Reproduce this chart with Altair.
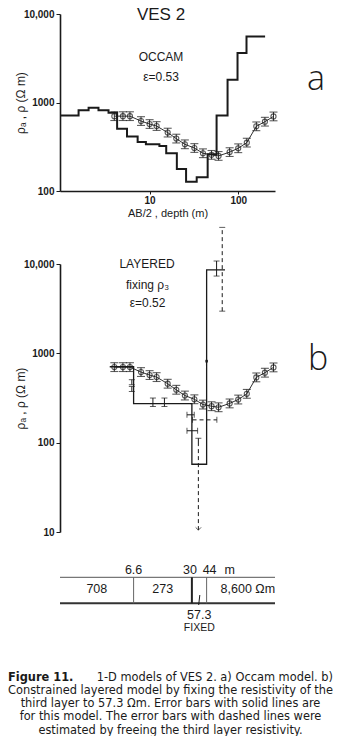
import altair as alt
import pandas as pd

# ---------------- data ----------------
# apparent resistivity sounding curve (same data in panel a and b)
ab2 = [4, 5, 6, 8, 10, 12, 16, 20, 25, 32, 40, 50, 60, 80, 100, 125, 160, 200, 250]
rho_app = [701, 701, 701, 617, 571, 542, 457, 391, 337, 306, 267, 256, 249, 275, 304, 352, 538, 607, 696]
rel_err = [1.12] * len(ab2)

# Occam smooth model (layer top depth, resistivity)
occam_depth = [1.0, 1.58, 2.05, 2.65, 3.44, 4.30, 5.56, 7.33, 9.08, 12.9, 15.4, 20.3,
               25.8, 34.0, 45.2, 57.0, 75.8, 98.2, 124, 201]
occam_rho = [715, 818, 871, 818, 766, 506, 412, 358, 337, 323, 267, 177,
             127, 143, 261, 715, 1811, 3614, 5560, 5560]

# constrained layered model
layer_bounds = [6.6, 30, 44]
layer_rho = [708, 273, 57.3, 8600]
layer_line_start = 3.55
layer_line_end = 71
layer_bound_labels = ["6.6", "30", "44"]
layer_rho_labels = ["708", "273", "8,600 Ωm"]

# solid error bars (this model)
vbar_x = [6.3, 6.3, 10.9, 14.7, 35.5, 57]
vbar_lo = [445, 374, 254, 254, 94, 7330]
vbar_hi = [507, 426, 316, 316, 112, 10800]
hbar_rho = [205, 136]
hbar_lo = [26.4, 26.4]
hbar_hi = [31.9, 34.8]
# dashed error bars (third layer resistivity free)
dv_x = [66]
dv_lo = [2966]
dv_hi = [25700]
dh_rho = [180]
dh_lo = [30.5]
dh_hi = [57.4]
dfree_x = [35.5]
dfree_lo = [10.5]
dfree_hi = [94]

caption_rest1 = "1-D models of VES 2. a) Occam model. b)"
caption_lines = [
    "Constrained layered model by fixing the resistivity of the",
    "third layer to 57.3 Ωm. Error bars with solid lines are",
    "for this model. The error bars with dashed lines were",
    "estimated by freeing the third layer resistivity.",
]

# ---------------- styling ----------------
FONT = "Liberation Sans"
CAP_FONT = "DejaVu Sans"
INK = "#1a1a1a"
W = 215
HA = 177
HB = 268
XDOM = [0.975, 260]
XS = alt.Scale(type="log", domain=XDOM, nice=False)


def xenc():
    return alt.X(
        "x:Q",
        scale=XS,
        axis=alt.Axis(values=[10, 100], format="d", title="AB/2 , depth (m)",
                      tickSize=3, labelPadding=1, titlePadding=2, grid=False,
                      labelFont=FONT, labelFontWeight="bold", labelFontSize=10,
                      titleFont=FONT, titleFontSize=11, titleFontWeight="normal",
                      domainColor=INK, domainWidth=1.6, tickColor=INK,
                      labelColor=INK, titleColor=INK),
    )


def yenc(domain, height, values):
    return alt.Y(
        "y:Q",
        scale=alt.Scale(type="log", domain=domain, nice=False),
        axis=alt.Axis(values=values,
                      labelExpr="datum.value == 10000 ? '10,000' : format(datum.value, 'd')",
                      title="ρₐ , ρ (Ω m)", titleX=-40, titleY=height / 2,
                      titleAngle=-90, titleAlign="center", titleBaseline="middle",
                      tickSize=4, labelPadding=2, grid=False,
                      labelFont=FONT, labelFontWeight="bold", labelFontSize=10,
                      titleFont=FONT, titleFontSize=12, titleFontWeight="normal",
                      domainColor=INK, domainWidth=1.6, tickColor=INK,
                      labelColor=INK, titleColor=INK),
    )


def txt(text, x, y, size=12, weight="normal", font=FONT, align="center", style="normal"):
    return alt.Chart(pd.DataFrame({"t": [text]})).mark_text(
        align=align, baseline="middle", font=font, fontSize=size,
        fontWeight=weight, fontStyle=style, color=INK
    ).encode(x=alt.value(x), y=alt.value(y), text="t:N")


def dtxt(text, xval, y, size=12.5, dx=0, weight="normal"):
    return alt.Chart(pd.DataFrame({"x": [xval], "t": [text]})).mark_text(
        font=FONT, fontSize=size, fontWeight=weight, color=INK, baseline="middle", dx=dx
    ).encode(x=alt.X("x:Q", scale=XS, axis=None), y=alt.value(y), text="t:N")


def data_layers(Y):
    pts = pd.DataFrame({"x": ab2, "y": rho_app})
    err = pd.DataFrame({"x": ab2,
                        "y": [r / f for r, f in zip(rho_app, rel_err)],
                        "y2": [r * f for r, f in zip(rho_app, rel_err)]})
    caps = pd.DataFrame({"x": ab2 + ab2, "y": list(err["y"]) + list(err["y2"])})
    line = alt.Chart(pts).mark_line(color=INK, strokeWidth=0.9).encode(x=xenc(), y=Y)
    rules = alt.Chart(err).mark_rule(color=INK, strokeWidth=0.9).encode(x=xenc(), y=Y, y2="y2:Q")
    ticks = alt.Chart(caps).mark_tick(orient="horizontal", size=8, thickness=1.1, color=INK).encode(x=xenc(), y=Y)
    circ = alt.Chart(pts).mark_point(shape="circle", size=26, filled=False, color=INK,
                                     strokeWidth=1.1).encode(x=xenc(), y=Y)
    return [line, rules, ticks, circ]


# ---------------- panel a ----------------
Ya = yenc([100, 10000], HA, [100, 1000, 10000])
occ = pd.DataFrame({"x": occam_depth, "y": occam_rho})
occam_line = alt.Chart(occ).mark_line(interpolate="step-after", color=INK, strokeWidth=2).encode(
    x=xenc(), y=Ya)
anchor = alt.Chart(pd.DataFrame({"a": [0]})).mark_rule(strokeOpacity=0).encode(
    x=alt.value(-52), x2=alt.value(-52), y=alt.value(80), y2=alt.value(90))

panel_a = alt.layer(
    occam_line, *data_layers(Ya),
    txt("VES 2", 101, 0.5, size=17),
    txt("OCCAM", 101, 42.7, size=12),
    txt("ε=0.53", 101, 62.7, size=12),
    txt("a", 256, 66, size=34, weight=300, font="Open Sans"),
    anchor,
).properties(width=W, height=HA)

# ---------------- panel b ----------------
Yb = yenc([10, 10000], HB, [10, 100, 1000, 10000])
lay = pd.DataFrame({"x": [layer_line_start] + layer_bounds + [layer_line_end],
                    "y": layer_rho + [layer_rho[-1]]})
layer_line = alt.Chart(lay).mark_line(interpolate="step-after", color=INK, strokeWidth=1.3).encode(
    x=xenc(), y=Yb)

vb = pd.DataFrame({"x": vbar_x, "y": vbar_lo, "y2": vbar_hi})
vcap_x, vcap_y = [], []
for i, (x, lo, hi) in enumerate(zip(vbar_x, vbar_lo, vbar_hi)):
    vcap_x.append(x); vcap_y.append(hi)
    if i != 4:
        vcap_x.append(x); vcap_y.append(lo)
vb_rules = alt.Chart(vb).mark_rule(color=INK, strokeWidth=1).encode(x=xenc(), y=Yb, y2="y2:Q")
vb_caps = alt.Chart(pd.DataFrame({"x": vcap_x, "y": vcap_y})).mark_tick(
    orient="horizontal", size=6, thickness=1, color=INK).encode(x=xenc(), y=Yb)

hb = pd.DataFrame({"x": hbar_lo, "x2": hbar_hi, "y": hbar_rho})
hb_rules = alt.Chart(hb).mark_rule(color=INK, strokeWidth=1).encode(x=xenc(), x2="x2:Q", y=Yb)
hb_caps = alt.Chart(pd.DataFrame({"x": hbar_lo + hbar_hi, "y": hbar_rho + hbar_rho})).mark_tick(
    orient="vertical", size=6, thickness=1, color=INK).encode(x=xenc(), y=Yb)

dv = pd.DataFrame({"x": dv_x + dfree_x, "y": dv_lo + dfree_lo, "y2": dv_hi + dfree_hi})
dv_rules = alt.Chart(dv).mark_rule(color=INK, strokeWidth=1, strokeDash=[4, 3]).encode(
    x=xenc(), y=Yb, y2="y2:Q")
dv_caps = alt.Chart(pd.DataFrame({"x": dv_x + dv_x, "y": dv_lo + dv_hi})).mark_tick(
    orient="horizontal", size=6, thickness=1, color=INK).encode(x=xenc(), y=Yb)
dh = pd.DataFrame({"x": dh_lo, "x2": dh_hi, "y": dh_rho})
dh_rules = alt.Chart(dh).mark_rule(color=INK, strokeWidth=1, strokeDash=[4, 3]).encode(
    x=xenc(), x2="x2:Q", y=Yb)
dh_caps = alt.Chart(pd.DataFrame({"x": dh_lo + dh_hi, "y": dh_rho + dh_rho})).mark_tick(
    orient="vertical", size=6, thickness=1, color=INK).encode(x=xenc(), y=Yb)
arrow = alt.Chart(pd.DataFrame({"x": dfree_x, "y": dfree_lo})).mark_point(
    shape="M-1,-1L0,0L1,-1", size=30, filled=False, color=INK, strokeWidth=1).encode(x=xenc(), y=Yb)
tiny = alt.Chart(pd.DataFrame({"x": [44], "y": [790], "y2": [845]})).mark_rule(
    color=INK, strokeWidth=2.5).encode(x=xenc(), y=Yb, y2="y2:Q")

# layer diagram below panel b (positions relative to panel b plot area)
DT, DB = 313.3, 339.3
top_line = alt.Chart(pd.DataFrame({"a": [0]})).mark_rule(color="#555", strokeWidth=1).encode(
    x=alt.value(0), x2=alt.value(W), y=alt.value(DT))
bot_line = alt.Chart(pd.DataFrame({"a": [0]})).mark_rule(color="#333", strokeWidth=2).encode(
    x=alt.value(0), x2=alt.value(W), y=alt.value(DB))
bnd = pd.DataFrame({"x": layer_bounds, "w": [1, 2, 1], "c": ["#666", "#222", "#666"]})
bnd_lines = alt.Chart(bnd).mark_rule().encode(
    x=alt.X("x:Q", scale=XS, axis=None),
    y=alt.value(DT), y2=alt.value(DB),
    strokeWidth=alt.StrokeWidth("w:Q", scale=None),
    color=alt.Color("c:N", scale=None))
bnd_texts = [
    dtxt(layer_bound_labels[0], layer_bounds[0], 306, dx=0),
    dtxt(layer_bound_labels[1], layer_bounds[1], 306, dx=-2),
    dtxt(layer_bound_labels[2], layer_bounds[2], 306, dx=3),
    dtxt("m", layer_bounds[2], 306, dx=23),
]
edges = [XDOM[0]] + layer_bounds + [XDOM[1]]
mids = [(edges[0] * edges[1]) ** 0.5, (edges[1] * edges[2]) ** 0.5, (edges[3] * edges[4]) ** 0.5]
rho_texts = [
    dtxt(layer_rho_labels[0], mids[0], 325.3),
    dtxt(layer_rho_labels[1], mids[1], 325.3),
    dtxt(layer_rho_labels[2], mids[2], 325.3, dx=7),
]
mid3 = (layer_bounds[1] * layer_bounds[2]) ** 0.5
slash = alt.Chart(pd.DataFrame({"x": [mid3 * 0.985], "x2": [mid3 * 1.015]})).mark_rule(
    color=INK, strokeWidth=1).encode(
    x=alt.X("x:Q", scale=XS, axis=None),
    x2="x2:Q", y=alt.value(341), y2=alt.value(331))
fixed_texts = [
    dtxt("57.3", mid3, 350.5, size=12.5),
    dtxt("FIXED", mid3, 363.5, size=10.5),
]

# caption
CX = 110.5
CY0, CDY = 413.5, 13.25
CS = 11.4
cap_layers = [
    txt("Figure 11.", -52, CY0, size=CS, weight="bold", font=CAP_FONT, align="left"),
    txt(caption_rest1, 273, CY0, size=CS, font=CAP_FONT, align="right"),
]
for i, line in enumerate(caption_lines):
    cap_layers.append(txt(line, CX, CY0 + CDY * (i + 1), size=CS, font=CAP_FONT))

panel_b = alt.layer(
    layer_line, *data_layers(Yb),
    vb_rules, vb_caps, hb_rules, hb_caps, dv_rules, dv_caps, dh_rules, dh_caps, arrow, tiny,
    txt("LAYERED", 87, 0, size=12),
    txt("fixing ρ₃", 87.5, 21, size=12),
    txt("ε=0.52", 87.5, 39.3, size=12),
    txt("b", 258, 96, size=34, weight=300, font="Open Sans"),
    top_line, bot_line, bnd_lines, *bnd_texts, *rho_texts, slash, *fixed_texts,
    *cap_layers,
).properties(width=W, height=HB)

chart = alt.vconcat(panel_a, panel_b, spacing=73, bounds="flush").resolve_scale(
    x="independent", y="independent").properties(
    padding={"top": -3, "left": 0, "right": 0, "bottom": 0}).configure_view(stroke=None)

chart.save("out.html", embed_options={"renderer": "svg", "actions": False})
